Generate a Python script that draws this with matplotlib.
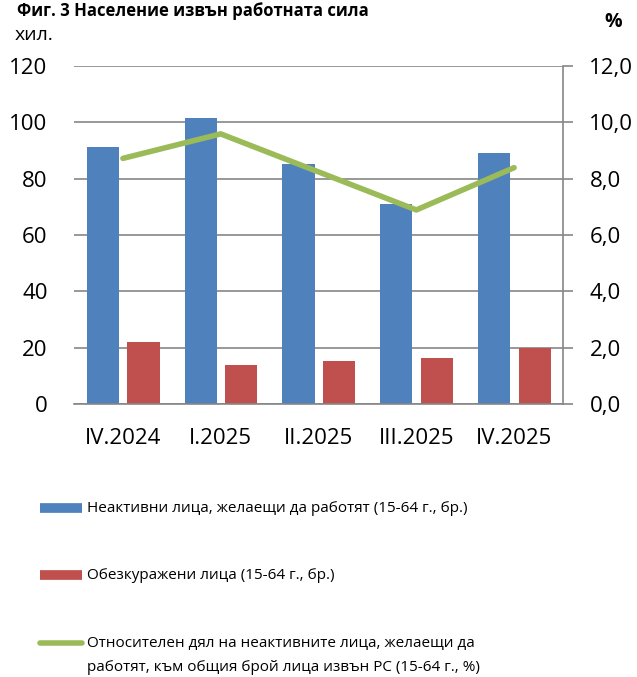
import matplotlib.pyplot as plt
from matplotlib.lines import Line2D
from matplotlib.ticker import FuncFormatter
import numpy as np

plt.rcParams['font.family'] = ['Open Sans', 'DejaVu Sans']

# data
categories = ["IV.2024", "I.2025", "II.2025", "III.2025", "IV.2025"]
inactive_want = [91.4, 101.5, 85.2, 70.9, 89.1]
discouraged = [22.1, 14.0, 15.3, 16.3, 19.8]
share_pct = [8.72, 9.59, 8.24, 6.89, 8.39]

labels = [
  "Неактивни лица, желаещи да работят (15-64 г., бр.)",
  "Обезкуражени лица (15-64 г., бр.)",
  "Относителен дял на неактивните лица, желаещи да\nработят, към общия брой лица извън РС (15-64 г., %)",
]

blue = "#4F81BD"
red = "#C0504D"
green = "#9BBB59"
grid_col = "#868686"

fig = plt.figure(figsize=(6.37, 6.77), dpi=100)
ax = fig.add_axes([74 / 637, 1 - 404 / 677, (563 - 74) / 637, (404 - 66) / 677])

x = np.arange(len(categories))
w = 0.33
ax.bar(x - 0.205, inactive_want, w, color=blue, zorder=2)
ax.bar(x + 0.21, discouraged, w, color=red, zorder=2)

ax.set_xlim(-0.5, len(categories) - 0.5)
ax.set_ylim(0, 120)
ax.set_yticks(range(0, 121, 20))
ax.set_xticks(x)
ax.set_xticklabels(categories)
ax.set_axisbelow(True)
ax.yaxis.grid(True, color=grid_col, linewidth=1.2)
ax.tick_params(axis='y', length=0, pad=19, labelsize=16)
ax.tick_params(axis='x', length=0, pad=17, labelsize=16)
for s in ["top", "left", "right"]:
  ax.spines[s].set_visible(False)
ax.spines["bottom"].set_color(grid_col)
ax.spines["bottom"].set_linewidth(1.2)

ax2 = ax.twinx()
ax2.plot(x, share_pct, color=green, linewidth=4, solid_capstyle='round', zorder=3)
ax2.set_ylim(0, 12)
ax2.set_yticks(range(0, 13, 2))
ax2.yaxis.set_major_formatter(FuncFormatter(lambda v, p: f"{v:.1f}".replace(".", ",")))
ax2.tick_params(axis='y', length=7, width=1.2, color=grid_col, pad=12, labelsize=16)
for s in ["top", "left", "bottom"]:
  ax2.spines[s].set_visible(False)
ax2.spines["right"].set_color(grid_col)
ax2.spines["right"].set_linewidth(1.2)

# titles / units
fig.text(17 / 637, 1 - 2 / 677, "Фиг. 3 Население извън работната сила",
  fontsize=12, fontweight='bold', va='top', ha='left')
fig.text(15 / 637, 1 - 35 / 677, "хил.", fontsize=14, va='center', ha='left')
fig.text(622 / 637, 1 - 22 / 677, "%", fontsize=14, fontweight='bold', va='center', ha='right')

# legend drawn by hand
leg_y = [508, 575, 643]
handles = [
  dict(color=blue, lw=7, cap='butt'),
  dict(color=red, lw=7, cap='butt'),
  dict(color=green, lw=4, cap='round'),
]
for y, lab, h in zip(leg_y, labels, handles):
  fy = 1 - y / 677
  fig.add_artist(Line2D([40 / 637, 82 / 637], [fy, fy], color=h["color"],
    linewidth=h["lw"], solid_capstyle=h["cap"], transform=fig.transFigure))
  fig.text(87 / 637, fy + 0.01, lab, fontsize=11, va='top', ha='left',
    linespacing=1.8)

fig.savefig("out.png", dpi=100)
